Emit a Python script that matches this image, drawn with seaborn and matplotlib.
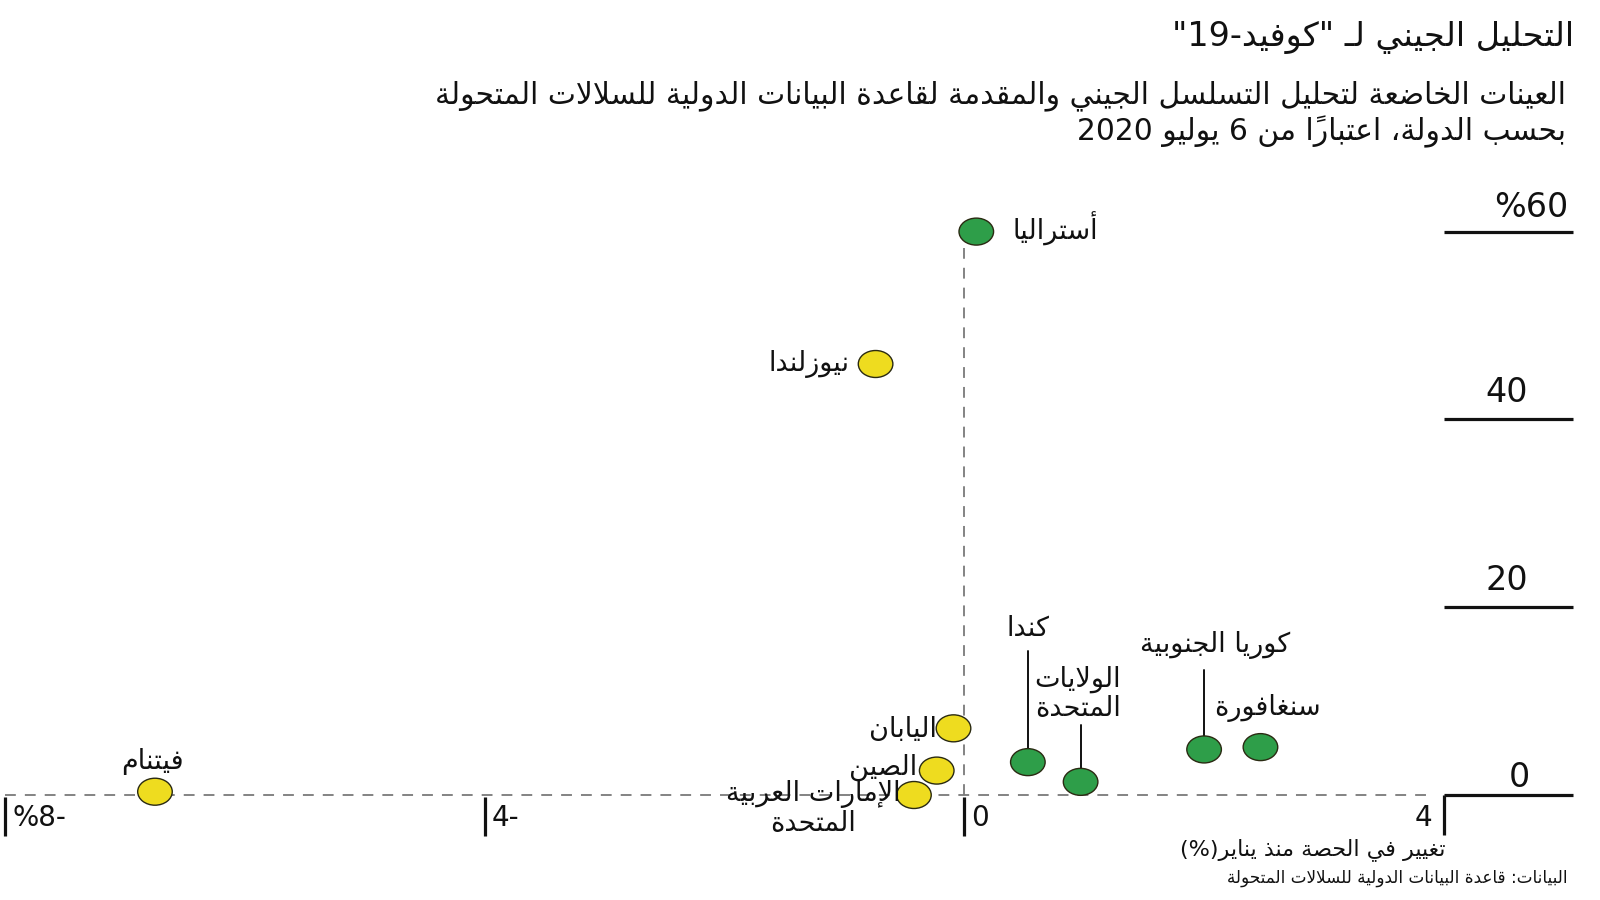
import numpy as np
import pandas as pd
import matplotlib
matplotlib.use("Agg")
import matplotlib.pyplot as plt
import seaborn as sns
from matplotlib.path import Path
from matplotlib.markers import MarkerStyle
from matplotlib.transforms import Affine2D

# ---------------- data ----------------
countries = ["أستراليا", "نيوزلندا", "اليابان", "الصين", "الإمارات العربية\nالمتحدة",
             "فيتنام", "كندا", "الولايات\nالمتحدة", "كوريا الجنوبية", "سنغافورة"]
share_change = [0.10, -0.74, -0.09, -0.23, -0.42, -6.75, 0.53, 0.97, 2.00, 2.47]   # x, %
share_sequenced = [60.0, 45.9, 7.1, 2.6, 0.0, 0.35, 3.5, 1.4, 4.85, 5.1]          # y, %
x_ticks = [-8, -4, 0, 4]
x_tick_labels = ["%8-", "4-", "0", "4"]
y_ticks = [0, 20, 40, 60]
y_tick_labels = ["0", "20", "40", "%60"]

title = 'التحليل الجيني لـ "كوفيد-19"'
subtitle1 = "العينات الخاضعة لتحليل التسلسل الجيني والمقدمة لقاعدة البيانات الدولية للسلالات المتحولة"
subtitle2 = "بحسب الدولة، اعتباراً من 6 يوليو 2020"
x_title = "تغيير في الحصة منذ يناير(%)"
source = "البيانات: قاعدة البيانات الدولية للسلالات المتحولة"

# ---------------- minimal Arabic shaping + visual reordering ----------------
_TWO = {'\u0622': 0xFE81, '\u0623': 0xFE83, '\u0624': 0xFE85, '\u0625': 0xFE87, '\u0627': 0xFE8D,
        '\u0629': 0xFE93, '\u062F': 0xFEA9, '\u0630': 0xFEAB, '\u0631': 0xFEAD, '\u0632': 0xFEAF,
        '\u0648': 0xFEED, '\u0649': 0xFEEF}
_FOUR = {'\u0626': 0xFE89, '\u0628': 0xFE8F, '\u062A': 0xFE95, '\u062B': 0xFE99, '\u062C': 0xFE9D,
         '\u062D': 0xFEA1, '\u062E': 0xFEA5, '\u0633': 0xFEB1, '\u0634': 0xFEB5, '\u0635': 0xFEB9,
         '\u0636': 0xFEBD, '\u0637': 0xFEC1, '\u0638': 0xFEC5, '\u0639': 0xFEC9, '\u063A': 0xFECD,
         '\u0641': 0xFED1, '\u0642': 0xFED5, '\u0643': 0xFED9, '\u0644': 0xFEDD, '\u0645': 0xFEE1,
         '\u0646': 0xFEE5, '\u0647': 0xFEE9, '\u064A': 0xFEF1}
_LAMALEF = {'\u0622': 0xFEF5, '\u0623': 0xFEF7, '\u0625': 0xFEF9, '\u0627': 0xFEFB}
_TATWEEL = '\u0640'


def _is_mark(c):
    return '\u064B' <= c <= '\u0652' or c == '\u0670'


def _joins_next(c):
    return c in _FOUR or c == _TATWEEL


def _joins_prev(c):
    return c in _FOUR or c in _TWO or c == _TATWEEL


def _shape(s):
    ch = list(s)
    n = len(ch)
    out = []
    i = 0
    while i < n:
        c = ch[i]
        if _is_mark(c) or (c not in _FOUR and c not in _TWO):
            out.append(c)
            i += 1
            continue
        j = i - 1
        while j >= 0 and _is_mark(ch[j]):
            j -= 1
        p = ch[j] if j >= 0 else None
        k = i + 1
        while k < n and _is_mark(ch[k]):
            k += 1
        q = ch[k] if k < n else None
        cp = p is not None and _joins_next(p) and _joins_prev(c)
        if c == '\u0644' and q in _LAMALEF:
            base = _LAMALEF[q]
            out.append(chr(base + (1 if cp else 0)))
            out.extend(ch[i + 1:k])
            i = k + 1
            continue
        cn = q is not None and _joins_next(c) and _joins_prev(q)
        if c in _TWO:
            b = _TWO[c]
            out.append(chr(b + (1 if cp else 0)))
        else:
            b = _FOUR[c]
            if cp and cn:
                out.append(chr(b + 3))
            elif cp:
                out.append(chr(b + 1))
            elif cn:
                out.append(chr(b + 2))
            else:
                out.append(chr(b))
        i += 1
    return "".join(out)


_MIRROR = {'(': ')', ')': '(', '[': ']', ']': '[', '<': '>', '>': '<'}


def _visual_line(s):
    s = _shape(s)
    tokens = []
    i = 0
    n = len(s)
    while i < n:
        c = s[i]
        if c.isascii() and (c.isdigit() or c.isalpha()):
            j = i
            while j < n and s[j].isascii() and (s[j].isdigit() or s[j].isalpha() or s[j] in '.,'):
                j += 1
            tokens.append(s[i:j])
            i = j
        else:
            j = i + 1
            while j < n and _is_mark(s[j]):
                j += 1
            tok = s[i:j]
            tokens.append(_MIRROR.get(tok, tok))
            i = j
    return "".join(reversed(tokens))


def ar(s):
    return "\n".join(_visual_line(line) for line in s.split("\n"))


# ---------------- figure ----------------
sns.set_theme(style="white")
plt.rcParams['font.family'] = ['DejaVu Sans']
fig = plt.figure(figsize=(16, 9), dpi=100)
ax = fig.add_axes([0, 0, 1, 1])
# pixel mapping: x=0 at px 964.3, 119.9 px/unit ; y=0 at px 795 from top, 9.39 px/unit
ax.set_xlim(-964.3 / 119.9, (1600 - 964.3) / 119.9)
ax.set_ylim(-(900 - 795) / 9.39, 795 / 9.39)
ax.axis("off")

df = pd.DataFrame({"country": countries, "x": share_change, "y": share_sequenced})
df["grp"] = np.where(df["x"] >= 0, "pos", "neg")

# reference dashed lines
ax.plot([x_ticks[0], 3.88], [0, 0], ls=(0, (6, 5)), color="#7a7a7a", lw=1.3, zorder=1)
ax.plot([0, 0], [0, 58.3], ls=(0, (6, 5)), color="#7a7a7a", lw=1.3, zorder=1)

# x tick bars and labels
for xt, lab in zip(x_ticks, x_tick_labels):
    if xt == x_ticks[-1]:
        ax.text(xt - 12 / 119.9, -2.45, lab, ha="right", va="center", fontsize=20, color="#111")
    else:
        ax.plot([xt, xt], [-0.2, -4.4], color="#111", lw=2.3, solid_capstyle="butt", zorder=2)
        ax.text(xt + 7 / 119.9, -2.45, lab, ha="left", va="center", fontsize=20, color="#111")

# right-hand y scale
x_y0 = x_ticks[-1]
x_y1 = (1573 - 964.3) / 119.9
for yt, lab in zip(y_ticks, y_tick_labels):
    ax.plot([x_y0, x_y1], [yt, yt], color="#111", lw=2.3, solid_capstyle="butt", zorder=2)
    if yt == 0:
        ax.text((1519 - 964.3) / 119.9, yt + 0.1, lab, ha="center", va="bottom", fontsize=24, color="#111")
    elif lab.startswith("%"):
        ax.text((1531 - 964.3) / 119.9, yt + 0.8, lab, ha="center", va="bottom", fontsize=24, color="#111")
    else:
        ax.text((1507 - 964.3) / 119.9, yt + 1.1, lab, ha="center", va="bottom", fontsize=24, color="#111")
ax.plot([x_y0, x_y0], [0, -4.3], color="#111", lw=2.3, solid_capstyle="butt", zorder=2)

# leader lines (country -> label)
leaders = {"كندا": 15.3, "الولايات\nالمتحدة": 7.45, "كوريا الجنوبية": 13.3}
for _, r in df.iterrows():
    if r["country"] in leaders:
        ax.plot([r["x"], r["x"]], [r["y"], leaders[r["country"]]], color="#111", lw=1.4, zorder=2)

# ellipse marker
ell = Path.unit_circle().transformed(Affine2D().scale(1.0, 0.78))
marker = MarkerStyle(ell)
sns.scatterplot(data=df, x="x", y="y", hue="grp", palette={"pos": "#2E9E49", "neg": "#EEDC1F"},
                marker=marker, s=620, edgecolor="#2a2a12", linewidth=1.0, legend=False,
                ax=ax, zorder=3)

# labels: offsets in pixels from the point (dx, dy, ha)
offsets = {
    "أستراليا": (36, 3, "left"),
    "نيوزلندا": (-26, 0, "right"),
    "اليابان": (-17, -2, "right"),
    "الصين": (-19, 3, "right"),
    "الإمارات العربية\nالمتحدة": (-101, -13, "center"),
    "فيتنام": (-3, 30, "center"),
    "كندا": (0, 133, "center"),
    "الولايات\nالمتحدة": (-3, 88, "center"),
    "كوريا الجنوبية": (11, 104, "center"),
    "سنغافورة": (7, 39, "center"),
}
for _, r in df.iterrows():
    dx, dy, ha = offsets[r["country"]]
    ax.annotate(ar(r["country"]), (r["x"], r["y"]), xytext=(dx, dy), textcoords="offset pixels",
                ha=ha, va="center", multialignment="center", fontsize=19.5, color="#111",
                linespacing=1.15, zorder=4)

# titles
fig.text(0.984, 0.958, ar(title), ha="right", va="center", fontsize=24, color="#111")
fig.text(0.979, 0.894, ar(subtitle1), ha="right", va="center", fontsize=21.4, color="#111")
fig.text(0.979, 0.853, ar(subtitle2), ha="right", va="center", fontsize=21.4, color="#111")
fig.text(1445 / 1600, 1 - 850 / 900, ar(x_title), ha="right", va="center", fontsize=16, color="#111")
fig.text(1568 / 1600, 1 - 878 / 900, ar(source), ha="right", va="center", fontsize=12.1, color="#111")

fig.savefig("out.png", dpi=100, facecolor="white")
